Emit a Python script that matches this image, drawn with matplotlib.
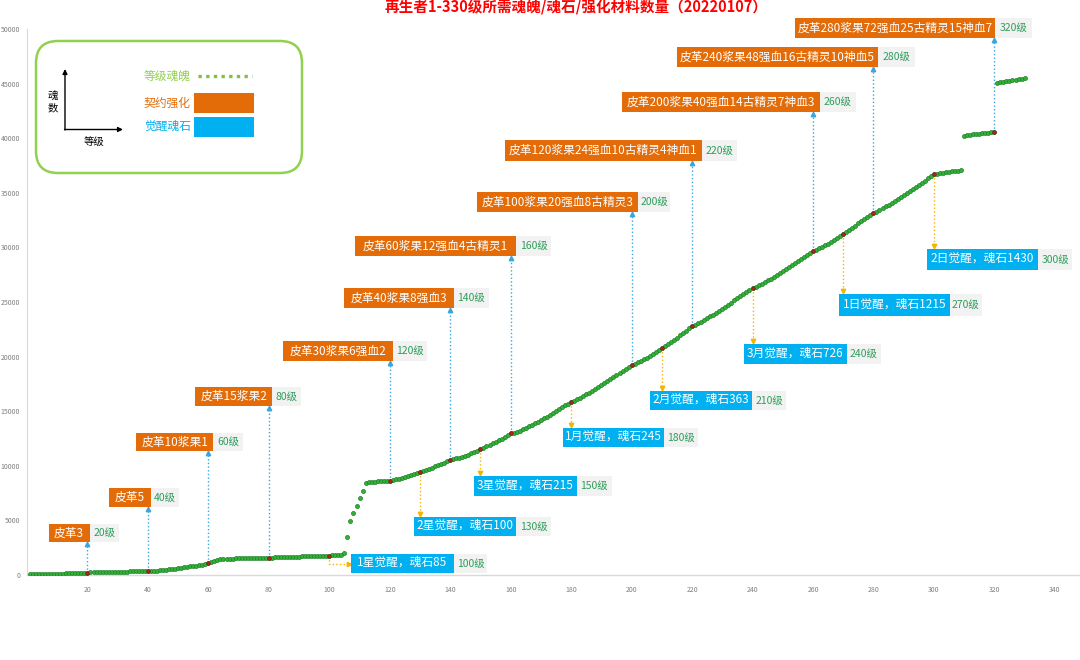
"""
Soul / soul-stone / material requirements per level for 再生者 (1-330).
Scatter of cumulative souls with callout boxes for contract upgrades and awakenings.
"""

import numpy as np
import matplotlib
matplotlib.use('Agg')
import matplotlib.pyplot as plt
from matplotlib.patches import Rectangle, FancyBboxPatch

plt.rcParams['font.family'] = ['Noto Sans CJK SC', 'DejaVu Sans']

# ---- data ----
levels = np.arange(1, 331)

soul_1_60 = [60, 70, 75, 80, 85, 90, 100, 105, 110, 120,
             125, 130, 140, 150, 155, 160, 170, 180, 190, 200,
             290, 292, 295, 297, 300, 302, 305, 307, 310, 312,
             315, 317, 320, 322, 325, 327, 330, 332, 335, 345,
             360, 385, 410, 435, 460, 490, 520, 550, 580, 610,
             650, 690, 735, 780, 825, 865, 905, 945, 1000, 1060]
soul_61_120 = [1180, 1290, 1370, 1420, 1450, 1475, 1495, 1510, 1525, 1540,
               1545, 1550, 1555, 1560, 1565, 1570, 1575, 1580, 1585, 1590,
               1600, 1610, 1620, 1630, 1640, 1650, 1660, 1670, 1680, 1690,
               1700, 1710, 1720, 1730, 1740, 1745, 1750, 1760, 1770, 1780,
               1790, 1800, 1805, 1810, 2050, 3520, 4970, 5650, 6350, 7050,
               7720, 8460, 8510, 8530, 8550, 8570, 8590, 8610, 8625, 8640]
soul_121_180 = [8700, 8760, 8830, 8900, 8980, 9060, 9150, 9240, 9330, 9430,
                9530, 9630, 9730, 9840, 9950, 10060, 10180, 10300, 10420, 10530,
                10590, 10670, 10750, 10840, 10930, 11030, 11130, 11240, 11370, 11510,
                11640, 11780, 11920, 12060, 12200, 12340, 12490, 12640, 12800, 12960,
                13020, 13120, 13230, 13350, 13480, 13610, 13750, 13890, 14040, 14190,
                14350, 14510, 14680, 14850, 15020, 15190, 15360, 15530, 15700, 15870]
soul_181_240 = [15950, 16080, 16220, 16370, 16530, 16700, 16880, 17060, 17250, 17440,
                17620, 17800, 17980, 18160, 18340, 18520, 18700, 18880, 19060, 19240,
                19330, 19460, 19600, 19750, 19900, 20060, 20220, 20390, 20570, 20760,
                20950, 21140, 21340, 21540, 21740, 21950, 22160, 22370, 22580, 22800,
                22900, 23040, 23190, 23350, 23510, 23680, 23850, 24020, 24200, 24380,
                24570, 24760, 24950, 25140, 25330, 25530, 25730, 25930, 26130, 26320]
soul_241_300 = [26400, 26530, 26680, 26830, 26990, 27150, 27310, 27470, 27640, 27810,
                27990, 28170, 28360, 28550, 28740, 28930, 29120, 29310, 29500, 29700,
                29770, 29900, 30040, 30190, 30340, 30500, 30670, 30850, 31030, 31210,
                31400, 31600, 31800, 32000, 32200, 32390, 32590, 32790, 32990, 33190,
                33280, 33420, 33580, 33750, 33920, 34100, 34280, 34460, 34650, 34840,
                35020, 35200, 35380, 35560, 35740, 35930, 36120, 36310, 36500, 36700]
soul_301_330 = [36760, 36800, 36840, 36880, 36920, 36960, 37000, 37040, 37080,
                40230, 40270, 40300, 40340, 40380, 40410, 40450, 40490, 40520, 40560, 40600,
                45100, 45140, 45190, 45230, 45280, 45320, 45370, 45410, 45460, 45500]
souls = np.array(soul_1_60 + soul_61_120 + soul_121_180 + soul_181_240
                 + soul_241_300 + soul_301_330)

# contract upgrades (orange callouts)
enhance_levels = [20, 40, 60, 80, 120, 140, 160, 200, 220, 260, 280, 320]
enhance_texts = ['皮革3', '皮革5', '皮革10浆果1', '皮革15浆果2', '皮革30浆果6强血2',
                 '皮革40浆果8强血3', '皮革60浆果12强血4古精灵1',
                 '皮革100浆果20强血8古精灵3', '皮革120浆果24强血10古精灵4神血1',
                 '皮革200浆果40强血14古精灵7神血3', '皮革240浆果48强血16古精灵10神血5',
                 '皮革280浆果72强血25古精灵15神血7']

# awakenings (blue callouts)
awaken_levels = [100, 130, 150, 180, 210, 240, 270, 300]
awaken_texts = ['1星觉醒，魂石85', '2星觉醒，魂石100', '3星觉醒，魂石215',
                '1月觉醒，魂石245', '2月觉醒，魂石363', '3月觉醒，魂石726',
                '1日觉醒，魂石1215', '2日觉醒，魂石1430']

# ---- callout layout (x0, x1, top, bottom, tag end) in data units ----
enhance_boxes = [(7.2, 20.7, 4670, 3020, 30.3), (27.0, 40.9, 7970, 6230, 50.4),
                 (36.2, 61.6, 13000, 11360, 71.6), (55.7, 81.1, 17220, 15480, 90.7),
                 (84.7, 121.1, 21430, 19600, 132.3), (104.9, 141.2, 26280, 24450, 152.7),
                 (108.5, 161.6, 31050, 29220, 173.5), (148.8, 202.1, 35080, 33240, 212.8),
                 (158.2, 223.2, 39840, 37910, 234.9), (196.9, 262.3, 44230, 42400, 274.2),
                 (215.1, 281.4, 48350, 46520, 293.7), (254.1, 320.1, 51010, 49180, 332.3)]
awaken_boxes = [(107.2, 141.2, 1920, 180, 152.2), (128.1, 161.8, 5310, 3570, 173.5),
                (148.0, 181.8, 9070, 7230, 193.5), (177.2, 210.8, 13460, 11720, 222.0),
                (206.2, 239.9, 16850, 15110, 251.1), (237.2, 271.1, 21150, 19320, 282.4),
                (268.6, 305.2, 25730, 23720, 315.8), (297.6, 334.6, 29850, 27930, 345.8)]

ORANGE = '#E36C09'
BLUE = '#00B0F0'
UP_ARROW = '#3AA6DD'
DOWN_ARROW = '#F5B400'
TAG_GREEN = '#2E9E5B'
LIGHT_GREEN = '#92D050'


def soul_at(level):
    return souls[list(levels).index(level)]


def draw_callout(ax, box, text, level, face):
    x0, x1, top, bottom, tag_end = box
    ax.add_patch(Rectangle((x0, bottom), x1 - x0, top - bottom, facecolor=face,
                           edgecolor='none', zorder=6, clip_on=False))
    ax.add_patch(Rectangle((x1, bottom), tag_end - x1, top - bottom, facecolor='#F2F2F2',
                           edgecolor='none', zorder=5, clip_on=False))
    ymid = (top + bottom) / 2
    ax.text((x0 + x1) / 2, ymid, text, color='white', fontsize=8.5,
            ha='center', va='center', zorder=7, clip_on=False)
    ax.text((x1 + tag_end) / 2, ymid, f'{level}级', color=TAG_GREEN, fontsize=7.5,
            ha='center', va='center', zorder=7, clip_on=False)


fig = plt.figure(figsize=(10.8, 6.6), dpi=100)
fig.patch.set_facecolor('white')
ax = fig.add_axes([27 / 1080, 1 - 575 / 660, 1052 / 1080, 546 / 660])

# main scatter
ax.plot(levels, souls, ls='none', marker='o', ms=2.9, mfc='#33B233',
        mec='#1B7F2B', mew=0.5, zorder=3)
marked = [20, 40, 60, 80, 100, 120, 130, 140, 150, 160, 180, 200,
          210, 220, 240, 260, 270, 280, 300, 320]
ax.plot(marked, [soul_at(l) for l in marked], ls='none', marker='o', ms=2.6,
        mfc='#B22222', mec='#7A1010', mew=0.4, zorder=4)

# contract upgrades: dotted arrow up to the orange box
for lvl, txt, box in zip(enhance_levels, enhance_texts, enhance_boxes):
    tip = box[3] - 220
    ax.plot([lvl, lvl], [soul_at(lvl), tip], ls=':', lw=1, color=UP_ARROW, zorder=2,
            clip_on=False)
    ax.plot(lvl, tip, marker='^', ms=3.2, color=UP_ARROW, zorder=2, clip_on=False)
    draw_callout(ax, box, txt, lvl, ORANGE)

# awakenings: dotted arrow down to the blue box (first one bends right)
for lvl, txt, box in zip(awaken_levels, awaken_texts, awaken_boxes):
    if lvl == 100:
        ax.plot([lvl, lvl, box[0] - 0.8], [soul_at(lvl), 1010, 1010], ls=':', lw=1,
                color=DOWN_ARROW, zorder=2)
        ax.plot(box[0] - 0.8, 1010, marker='>', ms=3.2, color=DOWN_ARROW, zorder=2)
    else:
        tip = box[2] + 250
        ax.plot([lvl, lvl], [soul_at(lvl), tip], ls=':', lw=1, color=DOWN_ARROW, zorder=2)
        ax.plot(lvl, tip, marker='v', ms=3.2, color=DOWN_ARROW, zorder=2)
    draw_callout(ax, box, txt, lvl, BLUE)

# axes styling (Excel-like)
ax.set_xlim(0, 348)
ax.set_ylim(0, 50000)
ax.set_xticks(range(20, 341, 20))
ax.set_yticks(range(0, 50001, 5000))
ax.tick_params(length=0, labelsize=5, colors='#7F7F7F')
ax.tick_params(axis='x', pad=8)
ax.tick_params(axis='y', pad=5)
for side in ['top', 'right']:
    ax.spines[side].set_visible(False)
ax.spines['left'].set_color('#D9D9D9')
ax.spines['bottom'].set_color('#D9D9D9')
ax.spines['left'].set_linewidth(0.8)
ax.spines['bottom'].set_linewidth(1.0)

# ---- overlay in pixel coordinates for title and legend ----
ov = fig.add_axes([0, 0, 1, 1], zorder=10)
ov.set_xlim(0, 1080)
ov.set_ylim(660, 0)
ov.axis('off')

ov.text(576, 7, '再生者1-330级所需魂魄/魂石/强化材料数量（20220107）', color='#FF0000',
        fontsize=10.5, fontweight='bold', ha='center', va='center')

ov.add_patch(FancyBboxPatch((36, 41), 266, 132, boxstyle='round,pad=0,rounding_size=22',
                            facecolor='white', edgecolor=LIGHT_GREEN, lw=1.8))
ov.annotate('', xy=(65, 69), xytext=(65, 130),
            arrowprops=dict(arrowstyle='-|>', color='black', lw=1, mutation_scale=7,
                            shrinkA=0, shrinkB=0))
ov.annotate('', xy=(123, 129.5), xytext=(64.5, 129.5),
            arrowprops=dict(arrowstyle='-|>', color='black', lw=1, mutation_scale=7,
                            shrinkA=0, shrinkB=0))
ov.text(53, 97, '魂', fontsize=7.5, ha='center', va='center')
ov.text(53, 108.5, '数', fontsize=7.5, ha='center', va='center')
ov.text(94, 143, '等级', fontsize=7.5, ha='center', va='center')

ov.text(144, 76, '等级魂魄', color=LIGHT_GREEN, fontsize=8.5, ha='left', va='center')
ov.plot([198, 252], [76, 76], ls=(0, (1, 1.3)), lw=2.4, color='#7DC242')
ov.text(144, 103, '契约强化', color=ORANGE, fontsize=8.5, ha='left', va='center')
ov.add_patch(Rectangle((194, 92.7), 60, 20, facecolor=ORANGE, edgecolor='none'))
ov.text(144, 127, '觉醒魂石', color=BLUE, fontsize=8.5, ha='left', va='center')
ov.add_patch(Rectangle((194, 117.3), 60, 19.4, facecolor=BLUE, edgecolor='none'))

fig.savefig('out.png', dpi=100, facecolor='white')
plt.close(fig)
